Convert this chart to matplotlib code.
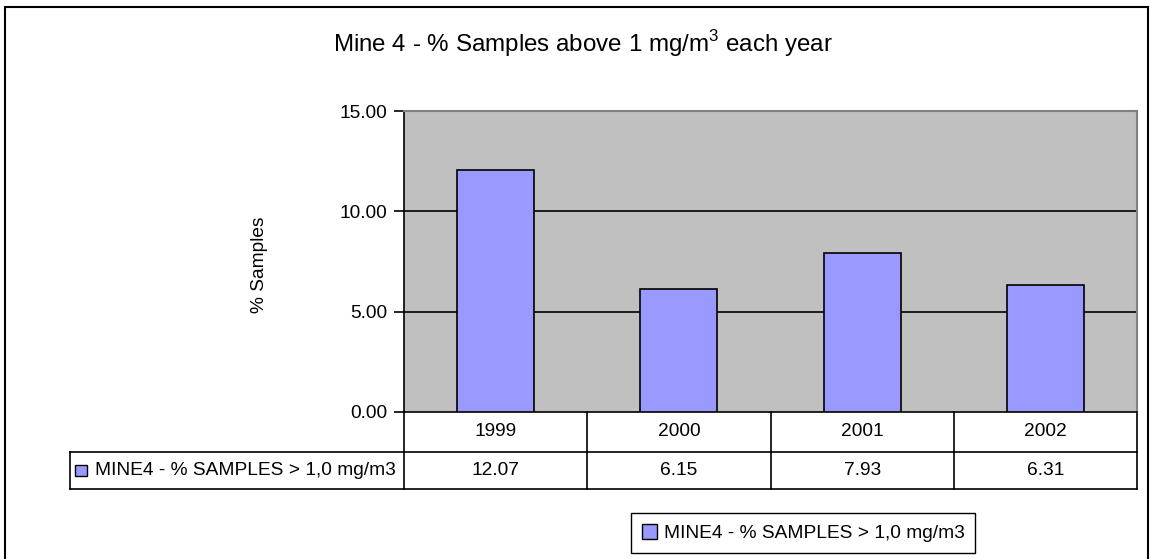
"""Bar chart of yearly sample exceedances for Mine 4 with a data table below."""

import matplotlib
matplotlib.use("Agg")
import matplotlib.pyplot as plt
import matplotlib.transforms as mtransforms
from matplotlib.patches import Rectangle, Patch

plt.rcParams["font.family"] = ["Liberation Sans", "DejaVu Sans"]
plt.rcParams["mathtext.fontset"] = "custom"
plt.rcParams["mathtext.rm"] = "Liberation Sans"

years = ["1999", "2000", "2001", "2002"]
pct_samples = [12.07, 6.15, 7.93, 6.31]
series_name = "MINE4 - % SAMPLES > 1,0 mg/m3"
y_ticks = [0, 5, 10, 15]

W, H = 1151, 559
BAR_COLOR = "#9999FF"
PLOT_BG = "#C0C0C0"
FS = 13.8


def fx(px):
    return px / W


def fy(py):
    return 1 - py / H


fig = plt.figure(figsize=(W / 100, H / 100), dpi=100)

# outer chart frame
fig.patches.append(Rectangle((fx(5), fy(600)), fx(1148) - fx(5), fy(7) - fy(600),
                             transform=fig.transFigure, fill=False,
                             edgecolor="black", linewidth=1.5))

left, right, top, bottom = 404, 1137, 111, 412
ax = fig.add_axes([fx(left), fy(bottom), fx(right) - fx(left), fy(top) - fy(bottom)])
ax.set_facecolor(PLOT_BG)

xs = range(len(years))
ax.bar(xs, pct_samples, width=0.42, color=BAR_COLOR, edgecolor="black",
       linewidth=1.2, zorder=3)

ax.set_xlim(-0.5, len(years) - 0.5)
ax.set_ylim(0, 15)
ax.set_yticks(y_ticks)
ax.set_yticklabels([f"{v:.2f}" for v in y_ticks], fontsize=FS)
ax.tick_params(axis="y", direction="out", length=7, width=1.2, pad=5)
ax.set_xticks([])

for v in y_ticks[1:-1]:
    ax.axhline(v, color="black", linewidth=1.2, zorder=2)

for side in ("top", "right"):
    ax.spines[side].set_color("#808080")
    ax.spines[side].set_linewidth(1.5)
for side in ("left", "bottom"):
    ax.spines[side].set_color("black")
    ax.spines[side].set_linewidth(1.2)

# data table under the axis: x in data units, y in axes fraction
trans = mtransforms.blended_transform_factory(ax.transData, ax.transAxes)
plot_h = bottom - top
row1 = -(452 - bottom) / plot_h
row2 = -(489 - bottom) / plot_h
label_x = (70 - left) / (right - left)
line_kw = dict(color="black", linewidth=1.2, clip_on=False)

x0, x1 = -0.5, len(years) - 0.5
ax.plot([x1, x1], [0, row2], transform=trans, **line_kw)
for i in range(len(years)):
    ax.plot([i - 0.5, i - 0.5], [0, row2], transform=trans, **line_kw)
    ax.text(i, row1 / 2, years[i], transform=trans, ha="center", va="center",
            fontsize=FS)
    ax.text(i, (row1 + row2) / 2, f"{pct_samples[i]:.2f}", transform=trans,
            ha="center", va="center", fontsize=FS)

ax.plot([label_x, 1], [row1, row1], transform=ax.transAxes, **line_kw)
ax.plot([label_x, 1], [row2, row2], transform=ax.transAxes, **line_kw)
ax.plot([label_x, label_x], [row1, row2], transform=ax.transAxes, **line_kw)

# series key inside the row label cell
key_w = 12 / (right - left)
key_h = 11 / plot_h
ax.add_patch(Rectangle((label_x + 5 / (right - left), (row1 + row2) / 2 - key_h / 2),
                       key_w, key_h, transform=ax.transAxes, facecolor=BAR_COLOR,
                       edgecolor="black", linewidth=1.0, clip_on=False))
ax.text(label_x + 25 / (right - left), (row1 + row2) / 2, series_name,
        transform=ax.transAxes, ha="left", va="center", fontsize=FS)

fig.text(fx(259), fy(265), "% Samples", rotation=90, ha="center", va="center",
         fontsize=FS)
fig.text(fx(583), fy(44), "Mine 4 - % Samples above 1 mg/m$^3$ each year",
         ha="center", va="center", fontsize=17.4)

fig.legend(handles=[Patch(facecolor=BAR_COLOR, edgecolor="black", label=series_name)],
           loc="center", bbox_to_anchor=(fx(803), fy(533)), fontsize=FS,
           frameon=True, fancybox=False, edgecolor="black", framealpha=1,
           handlelength=0.8, handleheight=0.8, handletextpad=0.35, borderpad=0.55,
           borderaxespad=0)

fig.savefig("out.png", dpi=100)
